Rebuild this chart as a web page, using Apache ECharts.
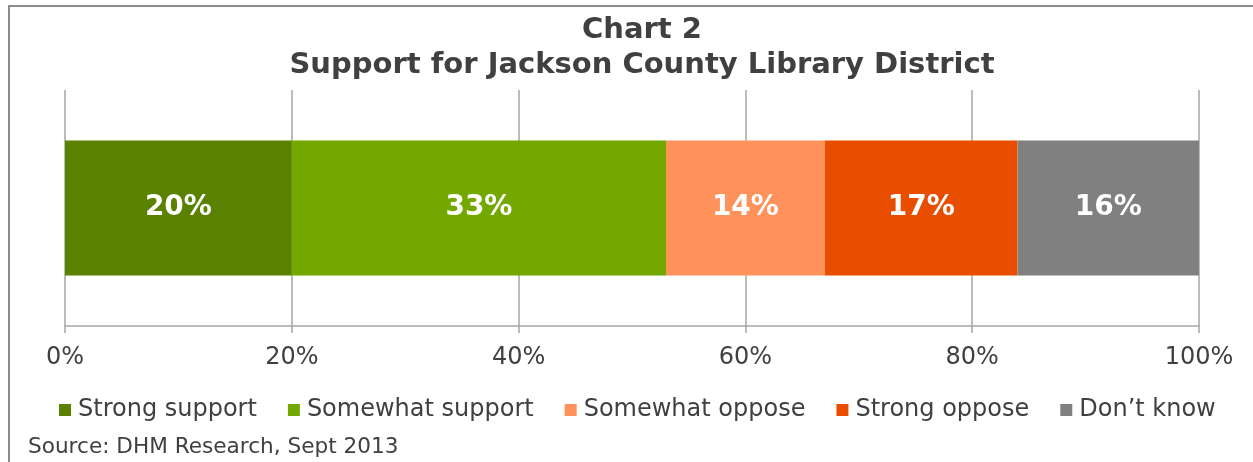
<!DOCTYPE html>
<html>
<head>
<meta charset="utf-8">
<script src="https://cdn.jsdelivr.net/npm/echarts@6/dist/echarts.min.js"></script>
<style>
  html, body { margin: 0; padding: 0; background: #ffffff; }
  #chart { width: 1253px; height: 462px; }
</style>
</head>
<body>
<div id="chart"></div>
<script>
// Survey response shares, one stacked bar
const categories = ['Support'];
const seriesNames = ['Strong support', 'Somewhat support', 'Somewhat oppose', 'Strong oppose', 'Don\u2019t know'];
const strongSupport = [20];
const somewhatSupport = [33];
const somewhatOppose = [14];
const strongOppose = [17];
const dontKnow = [16];
const tickLabels = ['0%', '20%', '40%', '60%', '80%', '100%'];

const seriesValues = [strongSupport, somewhatSupport, somewhatOppose, strongOppose, dontKnow];
const colors = ['#5a8200', '#72a800', '#ff915a', '#e94e00', '#808080'];
const FONT = '"DejaVu Sans", Verdana, sans-serif';
const TEXT = '#404040';

const chart = echarts.init(document.getElementById('chart'), null, { renderer: 'canvas' });

chart.setOption({
  animation: false,
  backgroundColor: '#ffffff',
  color: colors,
  title: {
    text: 'Chart 2\nSupport for Jackson County Library District',
    left: 637,
    top: 8,
    textAlign: 'center',
    textStyle: {
      fontFamily: FONT,
      fontWeight: 'bold',
      fontSize: 29,
      lineHeight: 35,
      color: TEXT
    }
  },
  legend: {
    data: seriesNames,
    left: 59,
    top: 398,
    padding: 0,
    itemWidth: 12,
    itemHeight: 12,
    itemGap: 31,
    icon: 'rect',
    textStyle: { fontFamily: FONT, fontSize: 24, color: TEXT, padding: [0, 0, 0, 2] }
  },
  grid: { left: 65, right: 54, top: 90, bottom: 136, containLabel: false },
  xAxis: {
    type: 'value',
    min: 0,
    max: 100,
    interval: 20,
    axisLine: { show: true, lineStyle: { color: '#a6a6a6', width: 1.5 } },
    axisTick: { show: true, length: 7, lineStyle: { color: '#a6a6a6', width: 1.5 } },
    splitLine: { show: true, lineStyle: { color: '#a6a6a6', width: 1.5 } },
    axisLabel: {
      fontFamily: FONT,
      fontSize: 24,
      color: TEXT,
      margin: 20,
      formatter: (v) => tickLabels[Math.round(v / 20)]
    }
  },
  yAxis: {
    type: 'category',
    data: categories,
    axisLine: { show: false },
    axisTick: { show: false },
    axisLabel: { show: false }
  },
  series: seriesNames.map((name, i) => ({
    name: name,
    type: 'bar',
    stack: 'total',
    barWidth: 135,
    data: seriesValues[i],
    itemStyle: { color: colors[i] },
    label: {
      show: true,
      position: 'inside',
      formatter: '{c}%',
      fontFamily: FONT,
      fontWeight: 'bold',
      fontSize: 28,
      color: '#ffffff'
    }
  })),
  graphic: [
    {
      type: 'polyline',
      shape: { points: [[9, 462], [9, 6], [1253, 6]] },
      style: { stroke: '#8c8c8c', lineWidth: 2, fill: null },
      silent: true
    },
    {
      type: 'text',
      left: 28,
      top: 436,
      style: {
        text: 'Source: DHM Research, Sept 2013',
        font: '21.6px ' + FONT,
        fill: TEXT
      }
    }
  ]
});
</script>
</body>
</html>
